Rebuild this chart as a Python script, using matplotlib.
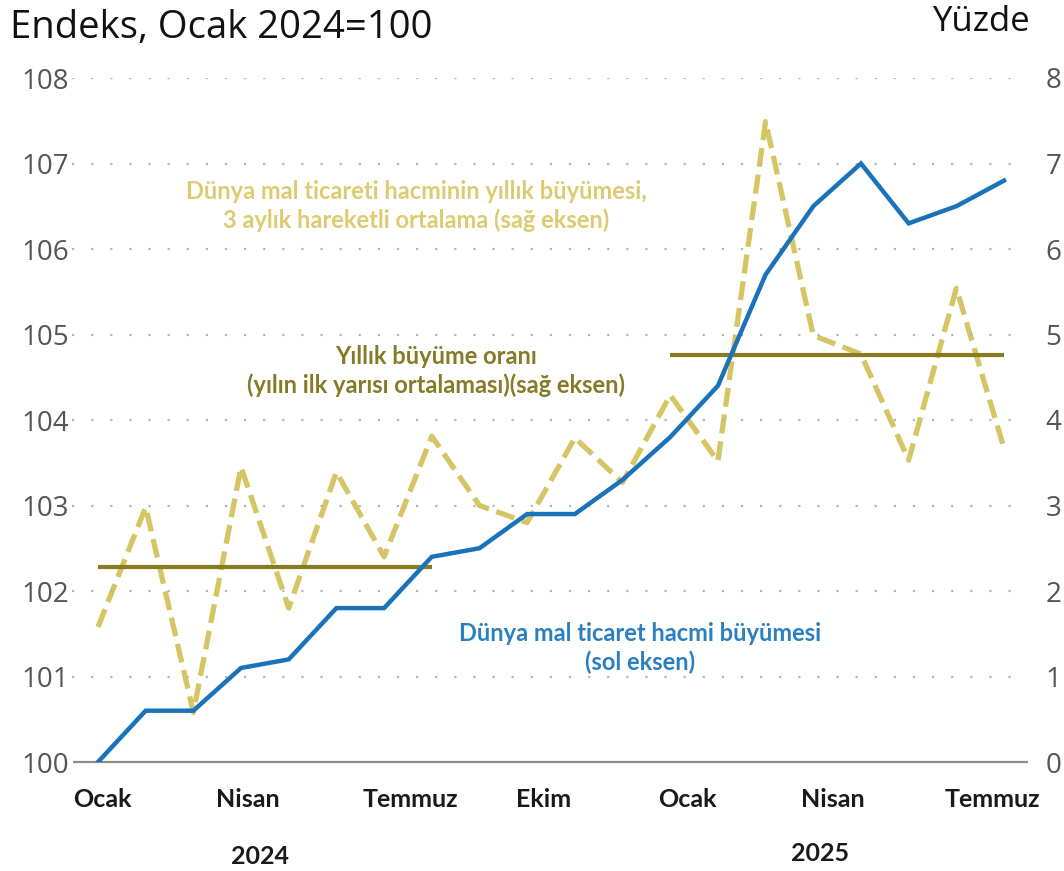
import matplotlib
matplotlib.use("Agg")
import matplotlib.pyplot as plt
import matplotlib.transforms as mtransforms

NARROW = ['Lato', 'DejaVu Sans']
NUMF = ['Open Sans', 'DejaVu Sans']

# ---- data ----
months = list(range(20))  # Ocak 2024 .. Ağustos 2025
volume_index = [100.0, 100.6, 100.6, 101.1, 101.2, 101.8, 101.8, 102.4, 102.5, 102.9,
                102.9, 103.3, 103.8, 104.4, 105.7, 106.5, 107.0, 106.3, 106.5, 106.8]
growth_3m = [1.58, 2.98, 0.58, 3.45, 1.80, 3.39, 2.40, 3.81, 3.00, 2.80,
             3.79, 3.27, 4.29, 3.52, 7.49, 4.99, 4.77, 3.53, 5.54, 3.67]
h1_avg_2024 = 2.28
h1_avg_2025 = 4.76
h1_2024_span = [0, 7]
h1_2025_span = [12, 19]
tick_months = [0, 3, 6, 9, 12, 15, 18]
tick_labels = ['Ocak', 'Nisan', 'Temmuz', 'Ekim', 'Ocak', 'Nisan', 'Temmuz']
years = ['2024', '2025']

BLUE = '#1a73ba'
DASH = '#d6c564'
OLIVE = '#8a7b22'
GRID = '#b5b5b5'
TICKC = '#555555'

W, H = 1064, 871
fig = plt.figure(figsize=(W / 100, H / 100), dpi=100)
L, R, B, T = 72, 1015, 762, 78
ax = fig.add_axes([L / W, 1 - B / H, (R - L) / W, (B - T) / H])
ax2 = ax.twinx()

ax.set_ylim(100, 108)
ax2.set_ylim(0, 8)
x0 = -(98 - L) / 47.7
x1 = 19 + (R - 1004) / 47.7
ax.set_xlim(x0, x1)

for a in (ax, ax2):
    for s in a.spines.values():
        s.set_visible(False)
    a.tick_params(length=0)

# grid
for v in range(101, 109):
    ax.axhline(v, color=GRID, lw=1.6, ls=(0, (1, 7.6)), zorder=0)
# baseline
btr = mtransforms.blended_transform_factory(ax.transAxes, ax.transData)
ax.plot([0.001, 1.0 + 13 / (R - L)], [100, 100], transform=btr, color='#8c8c8c', lw=1.6,
        clip_on=False, zorder=1, solid_capstyle='butt')

ax.set_yticks(range(100, 109))
ax.set_yticklabels([str(v) for v in range(100, 109)], fontsize=20, color=TICKC, family=NUMF)
ax2.set_yticks(range(0, 9))
ax2.set_yticklabels([str(v) for v in range(0, 9)], fontsize=20, color=TICKC, family=NUMF)
ax.tick_params(axis='y', pad=2)
ax2.tick_params(axis='y', pad=22)

# lines
ax2.plot(months, growth_3m, color=DASH, lw=3.8, ls=(0, (3.6, 1.5)), zorder=3)
ax2.plot(h1_2024_span, [h1_avg_2024] * 2, color=OLIVE, lw=3.0, zorder=4, solid_capstyle='butt')
ax2.plot(h1_2025_span, [h1_avg_2025] * 2, color=OLIVE, lw=3.0, zorder=4, solid_capstyle='butt')
ax.plot(months, volume_index, color=BLUE, lw=3.2, zorder=5, solid_joinstyle='miter')
ax.set_zorder(ax2.get_zorder() + 1)
ax.patch.set_visible(False)

# x tick labels (slightly shifted like the original)
label_shift = [0.1, 0.15, 0.55, 0.35, 0.35, 0.4, 0.75]
ax.set_xticks([])
xtr = mtransforms.blended_transform_factory(ax.transData, fig.transFigure)
for m, lab, sh in zip(tick_months, tick_labels, label_shift):
    fig.text(m + sh, 1 - 799 / H, lab, transform=xtr, ha='center', va='center',
             fontsize=18, fontweight='bold', color='#1a1a1a', family=NARROW)
for yr, px, py in zip(years, [260, 820], [856, 853]):
    fig.text(px / W, 1 - py / H, yr, ha='center', va='center', fontsize=18,
             fontweight='bold', color='#1a1a1a', family=NARROW)

# titles
fig.text(10 / W, 1 - 28 / H, 'Endeks, Ocak 2024=100', ha='left', va='center',
         fontsize=27.5, color='#111111', family=NUMF)
fig.text(1030 / W, 1 - 22 / H, 'Yüzde', ha='right', va='center',
         fontsize=25, color='#111111', family=NUMF)

# annotations
def ann(px, py, txt, col):
    fig.text(px / W, 1 - py / H, txt, ha='center', va='center', fontsize=17,
             fontweight='bold', color=col, family=NARROW, linespacing=1.25)

ann(416, 206, 'Dünya mal ticareti hacminin yıllık büyümesi,\n3 aylık hareketli ortalama (sağ eksen)', '#dccb70')
ann(436, 371, 'Yıllık büyüme oranı\n(yılın ilk yarısı ortalaması)(sağ eksen)', '#857a26')
ann(640, 648, 'Dünya mal ticaret hacmi büyümesi\n(sol eksen)', '#2a7fc1')

fig.savefig('out.png', dpi=100)
